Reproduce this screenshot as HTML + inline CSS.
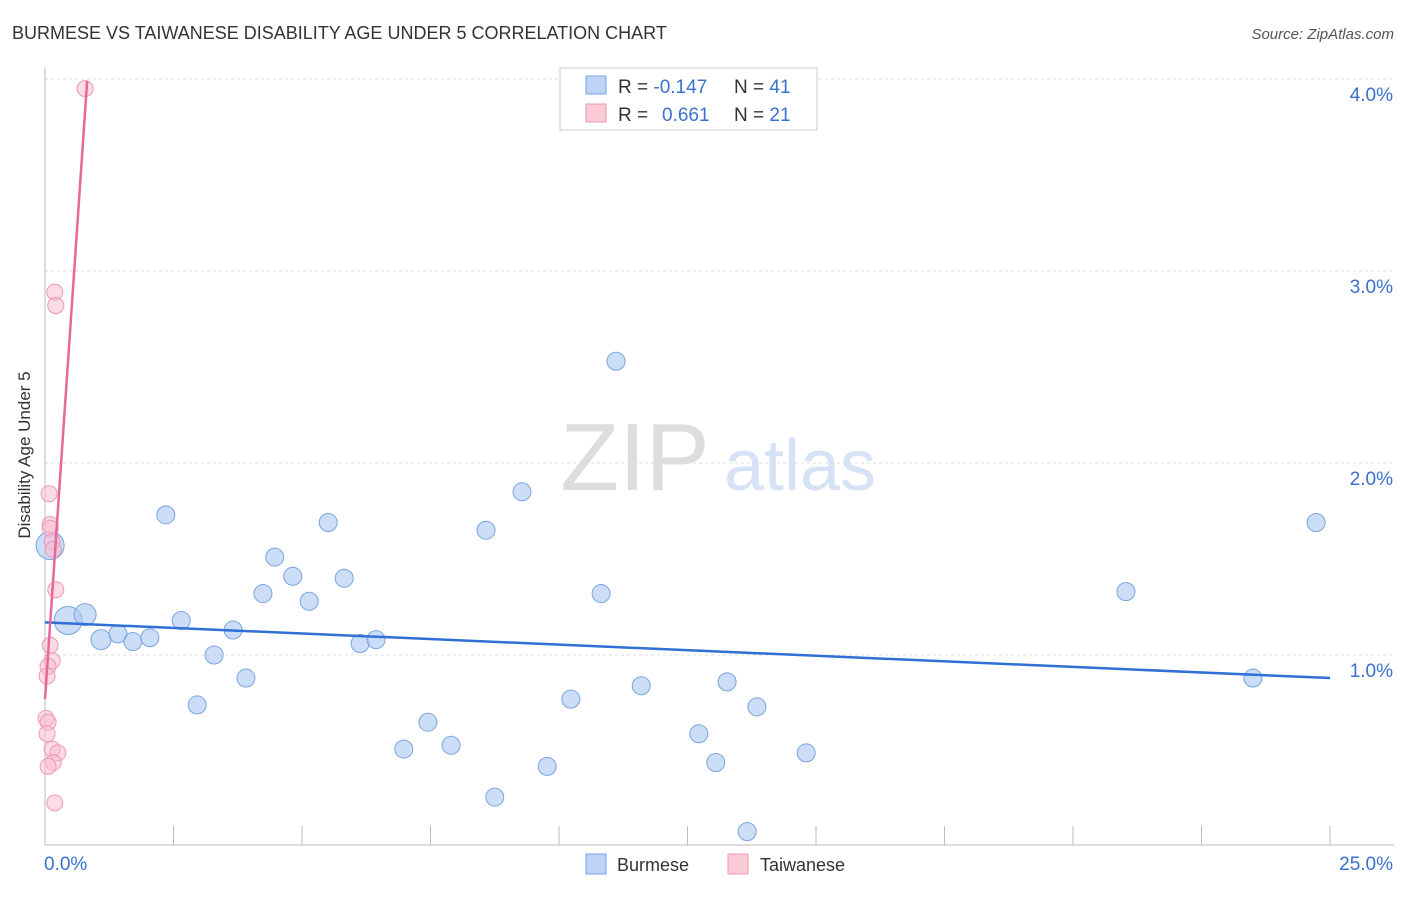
<!DOCTYPE html>
<html><head><meta charset="utf-8">
<style>
body{margin:0;background:#fff;font-family:"Liberation Sans",sans-serif;}
svg text{font-family:"Liberation Sans",sans-serif;}
</style></head>
<body>
<svg id="chart" width="1406" height="892" viewBox="0 0 1406 892">
<text x="12" y="39" font-size="18" fill="#333">BURMESE VS TAIWANESE DISABILITY AGE UNDER 5 CORRELATION CHART</text>
<text x="1394" y="39" font-size="15" fill="#555" font-style="italic" text-anchor="end">Source: ZipAtlas.com</text>
<text x="30" y="455" font-size="17" fill="#333" text-anchor="middle" transform="rotate(-90 30 455)">Disability Age Under 5</text>
<g>
<text x="635" y="490" font-size="96" fill="#ddd" font-family="Liberation Serif" text-anchor="middle">ZIP</text>
<text x="800" y="490" font-size="72" fill="#d6e2f5" text-anchor="middle">atlas</text>
</g>
<g id="grid"></g>
<g id="axes"></g>
<g id="marks"></g>
<g>
<rect x="560" y="68" width="257" height="62" fill="#fff" stroke="#ccc"/>
<rect x="586" y="76" width="20" height="18" fill="#bcd4f5" stroke="#7aa4e0"/>
<rect x="586" y="104" width="20" height="18" fill="#fbcbd8" stroke="#ef98b3"/>
<text x="618" y="93" font-size="19" fill="#333">R = <tspan fill="#3a70d0">-0.147</tspan><tspan x="734">N = </tspan><tspan fill="#3a70d0">41</tspan></text>
<text x="618" y="121" font-size="19" fill="#333">R = <tspan x="662" fill="#3a70d0">0.661</tspan><tspan x="734">N = </tspan><tspan fill="#3a70d0">21</tspan></text>
</g>
<g>
<rect x="586" y="854" width="20" height="20" fill="#bcd4f5" stroke="#7aa4e0"/>
<text x="617" y="871" font-size="18" fill="#333">Burmese</text>
<rect x="728" y="854" width="20" height="20" fill="#fbcbd8" stroke="#ef98b3"/>
<text x="760" y="871" font-size="18" fill="#333">Taiwanese</text>
</g>
</svg>
<script>
const burmeseX=[0.10,0.45,0.78,1.09,1.42,1.71,2.04,2.35,2.65,2.96,3.29,3.66,3.91,4.24,4.47,4.82,5.14,5.51,5.82,6.13,6.44,6.98,7.45,7.90,8.58,8.75,9.28,9.77,10.23,10.82,11.11,11.60,12.72,13.05,13.27,13.66,13.85,14.81,21.03,23.50,24.73];
const burmeseY=[1.57,1.18,1.21,1.08,1.11,1.07,1.09,1.73,1.18,0.74,1.00,1.13,0.88,1.32,1.51,1.41,1.28,1.69,1.40,1.06,1.08,0.51,0.65,0.53,1.65,0.26,1.85,0.42,0.77,1.32,2.53,0.84,0.59,0.44,0.86,0.08,0.73,0.49,1.33,0.88,1.69];
const burmeseSize=[14,14,11,10,9,9,9,9,9,9,9,9,9,9,9,9,9,9,9,9,9,9,9,9,9,9,9,9,9,9,9,9,9,9,9,9,9,9,9,9,9];
const taiwanX=[0.78,0.19,0.21,0.08,0.10,0.10,0.14,0.16,0.21,0.10,0.14,0.06,0.04,0.02,0.06,0.04,0.14,0.25,0.16,0.06,0.19];
const taiwanY=[3.95,2.89,2.82,1.84,1.68,1.66,1.59,1.55,1.34,1.05,0.97,0.94,0.89,0.67,0.65,0.59,0.51,0.49,0.44,0.42,0.23];
const burmeseTrendX=[0,25];
const burmeseTrendY=[1.17,0.88];
const taiwanTrendX=[0,0.82];
const taiwanTrendY=[0.77,3.99];
const yTicks=[1,2,3,4];
const yTickLabels=["1.0%","2.0%","3.0%","4.0%"];
const xTickCount=10;
const xLabels=["0.0%","25.0%"];

const NS="http://www.w3.org/2000/svg";
function sx(v){return 45+v*51.4;}
function sy(v){return 655-(v-1)*192;}
function mk(tag,attrs,parent){const e=document.createElementNS(NS,tag);for(const k in attrs)e.setAttribute(k,attrs[k]);document.getElementById(parent).appendChild(e);return e;}

yTicks.forEach((t,i)=>{
  const l=mk('line',{x1:45,x2:1394,y1:sy(t),y2:sy(t),stroke:'#ddd','stroke-dasharray':'3,3'},'grid');
  
  
  const tx=mk('text',{x:1393,y:sy(t)+22,'font-size':19,fill:'#3a70d0','text-anchor':'end'},'axes');
  tx.textContent=yTickLabels[i];
  
  
});
const ax=mk('line',{x1:45,x2:1394,y1:845,y2:845,stroke:'#bbb'},'axes');


const ay=mk('line',{x1:45,x2:45,y1:68,y2:845,stroke:'#bbb'},'axes');


for(let i=1;i<=xTickCount;i++){
  const tk=mk('line',{x1:sx(i*2.5),x2:sx(i*2.5),y1:826,y2:845,stroke:'#bbb'},'axes');
  
  
}
const xl0=mk('text',{x:44,y:870,'font-size':19,fill:'#3a70d0'},'axes');
xl0.textContent=xLabels[0];


const xl1=mk('text',{x:1393,y:870,'font-size':19,fill:'#3a70d0','text-anchor':'end'},'axes');
xl1.textContent=xLabels[1];



burmeseX.forEach((x,i)=>{
  const c=mk('circle',{cx:sx(x),cy:sy(burmeseY[i]),r:burmeseSize[i],fill:'rgba(170,200,242,0.6)',stroke:'#7aa4e0','stroke-width':1},'marks');
  
  
});
taiwanX.forEach((x,i)=>{
  const c=mk('circle',{cx:sx(x),cy:sy(taiwanY[i]),r:8,fill:'rgba(250,190,208,0.55)',stroke:'#ef98b3','stroke-width':1},'marks');
  
  
});
const bl=mk('line',{x1:sx(burmeseTrendX[0]),y1:sy(burmeseTrendY[0]),x2:sx(burmeseTrendX[1]),y2:sy(burmeseTrendY[1]),stroke:'#2f6fd6','stroke-width':2.5},'marks');


const tl=mk('line',{x1:sx(taiwanTrendX[0]),y1:sy(taiwanTrendY[0]),x2:sx(taiwanTrendX[1]),y2:sy(taiwanTrendY[1]),stroke:'#e8679a','stroke-width':2.5},'marks');


</script>
</body></html>
